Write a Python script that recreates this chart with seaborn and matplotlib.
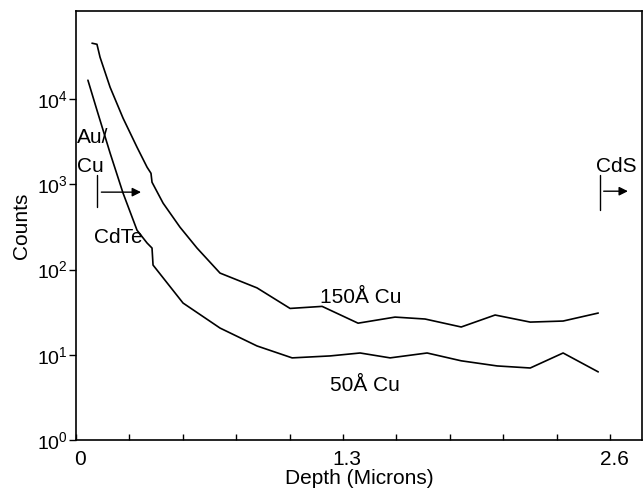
import numpy as np
import pandas as pd
import matplotlib
matplotlib.use("Agg")
import matplotlib.pyplot as plt
import matplotlib.transforms as mtrans
import seaborn as sns

depth_150 = [0.078, 0.102, 0.117, 0.166, 0.229, 0.297, 0.346, 0.365, 0.370, 0.424,
             0.506, 0.589, 0.701, 0.881, 1.042, 1.198, 1.373, 1.553, 1.699, 1.875,
             2.040, 2.211, 2.371, 2.542]
counts_150 = [45400, 44100, 31100, 13800, 5990, 2730, 1590, 1350, 1060, 602,
              315, 179, 91, 61, 35, 37, 23.5, 27.7, 26.3, 21.2,
              29.3, 24.2, 24.9, 30.9]

depth_50 = [0.058, 0.102, 0.166, 0.229, 0.297, 0.346, 0.370, 0.375, 0.521, 0.701,
            0.881, 1.052, 1.237, 1.383, 1.529, 1.709, 1.875, 2.050, 2.211, 2.371, 2.542]
counts_50 = [16700, 7430, 2330, 790, 290, 205, 179, 113, 40.5, 20.6,
             12.7, 9.2, 9.7, 10.5, 9.2, 10.5, 8.5, 7.4, 7.0, 10.5, 6.3]

x_ticks = [0, 1.3, 2.6]
x_tick_labels = ["0", "1.3", "2.6"]
y_ticks = [1, 10, 100, 1000, 10000]
y_tick_labels = ["$10^{0}$", "$10^{1}$", "$10^{2}$", "$10^{3}$", "$10^{4}$"]

df = pd.concat([
    pd.DataFrame({"Depth": depth_150, "Counts": counts_150, "Sample": "150"}),
    pd.DataFrame({"Depth": depth_50, "Counts": counts_50, "Sample": "50"}),
])

sns.set_style("white")
plt.rcParams["font.family"] = ["Liberation Sans", "DejaVu Sans"]
plt.rcParams["mathtext.fontset"] = "custom"
plt.rcParams["mathtext.rm"] = "Liberation Sans"
plt.rcParams["mathtext.it"] = "Liberation Sans"
for k in ["text.color", "axes.labelcolor", "xtick.color", "ytick.color", "axes.edgecolor"]:
    plt.rcParams[k] = "black"

fig = plt.figure(figsize=(6.43, 4.93), dpi=100)
ax = fig.add_axes([76/643, 1 - 440/493, (643 - 77)/643, (440 - 11)/493])

sns.lineplot(data=df, x="Depth", y="Counts", units="Sample", estimator=None,
             color="black", linewidth=1.2, ax=ax, sort=False)

ax.set_yscale("log")
ax.set_xlim(0, 2.755)
ax.set_ylim(1, 10**5.035)

ax.set_xticks(np.arange(0, 2.61, 0.26), minor=True)
ax.set_xticks(x_ticks)
ax.set_xticklabels(x_tick_labels, fontsize=15)
ax.set_yticks(y_ticks)
ax.set_yticklabels(y_tick_labels, fontsize=14)
ax.yaxis.set_minor_locator(matplotlib.ticker.NullLocator())
ax.tick_params(axis="x", which="both", direction="in", length=4, width=1, bottom=True, pad=7)
ax.tick_params(axis="y", which="major", direction="out", length=5, width=1, left=True, pad=1)

off = mtrans.ScaledTranslation(4/100, 0, fig.dpi_scale_trans)
for lab in ax.get_xticklabels():
    lab.set_transform(lab.get_transform() + off)

for s in ax.spines.values():
    s.set_color("black")
    s.set_linewidth(1.2)

ax.set_xlabel("Depth (Microns)", fontsize=15, labelpad=0)
ax.set_ylabel("Counts", fontsize=15, labelpad=4)

fs = 15
# annotations
ax.text(0.005, 10**3.484, "Au/", fontsize=fs, ha="left", va="baseline")
ax.text(0.005, 10**3.144, "Cu", fontsize=fs, ha="left", va="baseline")
ax.plot([0.102, 0.102], [10**2.733, 10**3.109], color="black", lw=1)
ax.annotate("", xy=(0.33, 10**2.909), xytext=(0.11, 10**2.909),
            arrowprops=dict(arrowstyle="-|>", color="black", lw=1, mutation_scale=13))
ax.text(0.088, 10**2.311, "CdTe", fontsize=fs, ha="left", va="baseline")

ax.text(2.532, 10**3.144, "CdS", fontsize=fs, ha="left", va="baseline")
ax.plot([2.551, 2.551], [10**2.698, 10**3.109], color="black", lw=1)
ax.annotate("", xy=(2.70, 10**2.92), xytext=(2.555, 10**2.92),
            arrowprops=dict(arrowstyle="-|>", color="black", lw=1, mutation_scale=13))

ax.text(1.188, 10**1.607, "150Å Cu", fontsize=fs, ha="left", va="baseline")
ax.text(1.237, 10**0.575, "50Å Cu", fontsize=fs, ha="left", va="baseline")

fig.savefig("out.png", dpi=100)
